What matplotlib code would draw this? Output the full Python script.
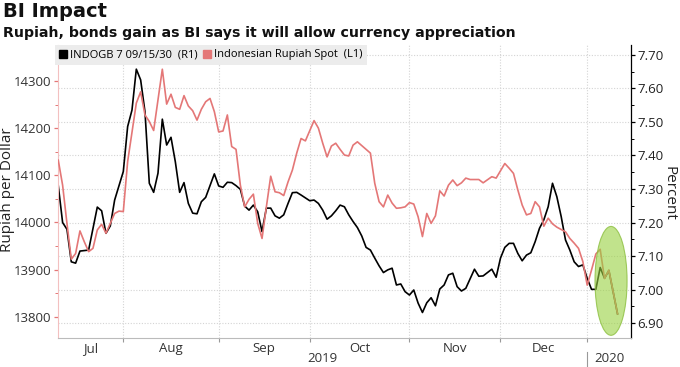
import matplotlib
matplotlib.use("Agg")
import numpy as np
import pandas as pd
import matplotlib.pyplot as plt
import matplotlib.transforms as mtransforms
from matplotlib.patches import Ellipse
from matplotlib.lines import Line2D

plt.rcParams['font.family'] = ['Open Sans', 'DejaVu Sans']

# trading calendar for the x axis (weekdays less market holidays)
holidays = ['2019-12-24', '2019-12-25', '2020-01-01']
days = pd.bdate_range('2019-07-11', '2020-01-13', freq='C', holidays=holidays)

# INDOGB 7 09/15/30 yield, percent (right axis)
bond_dates = [
    '2019-07-11', '2019-07-12', '2019-07-15', '2019-07-16', '2019-07-17', '2019-07-18',
    '2019-07-22', '2019-07-24', '2019-07-25', '2019-07-26', '2019-07-29', '2019-07-30',
    '2019-08-01', '2019-08-02', '2019-08-05', '2019-08-06', '2019-08-07', '2019-08-08',
    '2019-08-09', '2019-08-12', '2019-08-13', '2019-08-14', '2019-08-15', '2019-08-16',
    '2019-08-19', '2019-08-20', '2019-08-21', '2019-08-22', '2019-08-23', '2019-08-26',
    '2019-08-27', '2019-08-28', '2019-08-30',
    '2019-09-02', '2019-09-03', '2019-09-04', '2019-09-05', '2019-09-06', '2019-09-09',
    '2019-09-10', '2019-09-11', '2019-09-12', '2019-09-13', '2019-09-16', '2019-09-17',
    '2019-09-18', '2019-09-19', '2019-09-20', '2019-09-23', '2019-09-24', '2019-09-25',
    '2019-09-26', '2019-09-27',
    '2019-10-01', '2019-10-02', '2019-10-03', '2019-10-04', '2019-10-07', '2019-10-08',
    '2019-10-09', '2019-10-10', '2019-10-11', '2019-10-14', '2019-10-15', '2019-10-16',
    '2019-10-17', '2019-10-18', '2019-10-21', '2019-10-22', '2019-10-23', '2019-10-24',
    '2019-10-25', '2019-10-28', '2019-10-29', '2019-10-30', '2019-10-31',
    '2019-11-01', '2019-11-04', '2019-11-05', '2019-11-06', '2019-11-07', '2019-11-08',
    '2019-11-11', '2019-11-12', '2019-11-13', '2019-11-14', '2019-11-15', '2019-11-18',
    '2019-11-19', '2019-11-20', '2019-11-22', '2019-11-25', '2019-11-26', '2019-11-28',
    '2019-11-29',
    '2019-12-02', '2019-12-03', '2019-12-04', '2019-12-05', '2019-12-06', '2019-12-09',
    '2019-12-10', '2019-12-11', '2019-12-12', '2019-12-13', '2019-12-16', '2019-12-17',
    '2019-12-18', '2019-12-19', '2019-12-20', '2019-12-23', '2019-12-26', '2019-12-27',
    '2019-12-30', '2019-12-31',
    '2020-01-02', '2020-01-03', '2020-01-06', '2020-01-07', '2020-01-08', '2020-01-09',
    '2020-01-13',
]
bond_yield = [
    7.310, 7.200, 7.180, 7.083, 7.079, 7.115,
    7.118, 7.246, 7.235, 7.168, 7.190, 7.267,
    7.352, 7.486, 7.535, 7.657, 7.625, 7.530,
    7.317, 7.290, 7.347, 7.508, 7.431, 7.454,
    7.381, 7.290, 7.319, 7.257, 7.228, 7.226,
    7.262, 7.275, 7.345,
    7.309, 7.305, 7.320, 7.319, 7.310, 7.299,
    7.249, 7.237, 7.252, 7.232, 7.173, 7.243,
    7.243, 7.220, 7.213, 7.223, 7.257, 7.289,
    7.290, 7.282,
    7.265, 7.267, 7.257, 7.237, 7.210, 7.220,
    7.235, 7.252, 7.247, 7.223, 7.203, 7.185,
    7.160, 7.126, 7.118, 7.094, 7.071, 7.051,
    7.059, 7.064, 7.014, 7.017, 6.994,
    6.984, 6.999, 6.960, 6.932, 6.961, 6.976,
    6.952, 7.002, 7.014, 7.044, 7.049, 7.009,
    6.996, 7.004, 7.061, 7.040, 7.041, 7.061,
    7.037,
    7.094, 7.126, 7.138, 7.138, 7.108, 7.086,
    7.103, 7.110, 7.143, 7.183, 7.208, 7.247,
    7.317, 7.277, 7.218, 7.148, 7.118, 7.083,
    7.069, 7.074,
    7.034, 7.001, 7.001, 7.066, 7.034, 7.057,
    6.928,
]

# Indonesian Rupiah spot, rupiah per dollar (left axis)
idr_dates = [
    '2019-07-11', '2019-07-12', '2019-07-15', '2019-07-16', '2019-07-17', '2019-07-18',
    '2019-07-19', '2019-07-22', '2019-07-23', '2019-07-24', '2019-07-25', '2019-07-26',
    '2019-07-29', '2019-07-30', '2019-07-31',
    '2019-08-01', '2019-08-02', '2019-08-06', '2019-08-07', '2019-08-08', '2019-08-09',
    '2019-08-12', '2019-08-14', '2019-08-15', '2019-08-16', '2019-08-19', '2019-08-20',
    '2019-08-21', '2019-08-22', '2019-08-23', '2019-08-26', '2019-08-27', '2019-08-28',
    '2019-08-29', '2019-08-30',
    '2019-09-02', '2019-09-03', '2019-09-04', '2019-09-05', '2019-09-06', '2019-09-09',
    '2019-09-10', '2019-09-11', '2019-09-12', '2019-09-13', '2019-09-16', '2019-09-17',
    '2019-09-18', '2019-09-19', '2019-09-20', '2019-09-23', '2019-09-24', '2019-09-25',
    '2019-09-26', '2019-09-27', '2019-09-30',
    '2019-10-02', '2019-10-03', '2019-10-04', '2019-10-07', '2019-10-08', '2019-10-09',
    '2019-10-10', '2019-10-11', '2019-10-14', '2019-10-15', '2019-10-16', '2019-10-18',
    '2019-10-21', '2019-10-22', '2019-10-23', '2019-10-24', '2019-10-25', '2019-10-28',
    '2019-10-29', '2019-10-30', '2019-10-31',
    '2019-11-01', '2019-11-04', '2019-11-05', '2019-11-06', '2019-11-07', '2019-11-08',
    '2019-11-11', '2019-11-12', '2019-11-13', '2019-11-14', '2019-11-15', '2019-11-18',
    '2019-11-19', '2019-11-20', '2019-11-21', '2019-11-25', '2019-11-26', '2019-11-28',
    '2019-11-29',
    '2019-12-03', '2019-12-04', '2019-12-05', '2019-12-06', '2019-12-09', '2019-12-10',
    '2019-12-11', '2019-12-12', '2019-12-13', '2019-12-16', '2019-12-17', '2019-12-18',
    '2019-12-19', '2019-12-20', '2019-12-23', '2019-12-26', '2019-12-27', '2019-12-30',
    '2019-12-31',
    '2020-01-02', '2020-01-03', '2020-01-06', '2020-01-07', '2020-01-08', '2020-01-09',
    '2020-01-13',
]
idr_spot = [
    14132, 14079, 13998, 13922, 13934, 13982,
    13959, 13938, 13945, 13984, 13996, 13977,
    13998, 14019, 14024,
    14023, 14129, 14253, 14277, 14228, 14214,
    14195, 14325, 14251, 14272, 14244, 14240,
    14269, 14247, 14237, 14217, 14240, 14256,
    14263, 14235,
    14192, 14194, 14228, 14161, 14155, 14079,
    14033, 14049, 14060, 13998, 13966, 14033,
    14098, 14065, 14063, 14057, 14086, 14111,
    14147, 14178, 14173,
    14216, 14200, 14168, 14139, 14162, 14168,
    14155, 14143, 14141, 14164, 14171, 14155,
    14147, 14083, 14044, 14033, 14058, 14041,
    14030, 14031, 14033,
    14042, 14039, 14012, 13970, 14019, 13998,
    14014, 14067, 14056, 14079, 14090, 14078,
    14084, 14094, 14091, 14091, 14084, 14097,
    14094,
    14125, 14115, 14104, 14069, 14037, 14016,
    14019, 14044, 14033, 13992, 14009, 13997,
    13990, 13985, 13980, 13966, 13956, 13945,
    13917,
    13867, 13899, 13933, 13943, 13881, 13899,
    13806,
]

left_ticks = [13800, 13900, 14000, 14100, 14200, 14300]
right_ticks = [6.90, 7.00, 7.10, 7.20, 7.30, 7.40, 7.50, 7.60, 7.70]

bond_x = days.get_indexer(pd.to_datetime(bond_dates))
idr_x = days.get_indexer(pd.to_datetime(idr_dates))

red = '#e47777'

fig = plt.figure(figsize=(6.8, 3.67), dpi=100)
ax = fig.add_axes([0.0857, 0.079, 0.8422, 0.7984])
ax2 = ax.twinx()
ax.set_zorder(2)
ax2.set_zorder(1)
ax.patch.set_visible(False)

# month boundaries
month_starts = [i for i in range(1, len(days)) if days[i].month != days[i - 1].month]
edges = [0] + month_starts
mids = [(edges[i] + edges[i + 1]) / 2 for i in range(len(edges) - 1)]
mlabels = [days[edges[i]].strftime('%b') for i in range(len(edges) - 1)]

ax.set_xlim(0, 132.1)
ax.set_ylim(13754.8, 14376.4)
ax2.set_ylim(6.856, 7.729)

# grid
for yv in right_ticks:
    ax2.axhline(yv, color='#d4d4d4', lw=0.8, ls=(0, (1, 1.5)), zorder=0)
for xv in month_starts:
    ax2.axvline(xv, color='#d4d4d4', lw=0.8, ls=(0, (1, 1.5)), zorder=0)

ax2.plot(bond_x, bond_yield, color='black', lw=1.2, zorder=3)
ax.plot(idr_x, idr_spot, color=red, lw=1.2, zorder=3)

ell = Ellipse((127.5, 13876), width=7.4, height=231, facecolor=(0.60, 0.82, 0.25, 0.6),
              edgecolor=(0.55, 0.75, 0.25, 0.8), lw=0.8, zorder=5)
ax.add_patch(ell)

# spines
for s in ['top', 'right']:
    ax.spines[s].set_visible(False)
for s in ['top', 'left', 'bottom']:
    ax2.spines[s].set_visible(False)
ax.spines['left'].set_color('#f3c0c0')
ax.spines['bottom'].set_color('#bbbbbb')
ax2.spines['right'].set_color('black')
ax2.spines['right'].set_linewidth(0.9)

# left axis
ax.set_yticks(left_ticks)
ax.set_yticks(np.arange(13800, 14376, 50), minor=True)
ax.tick_params(axis='y', which='major', colors=red, labelcolor='#333333', length=3,
               width=0.9, labelsize=9.5, pad=2)
ax.tick_params(axis='y', which='minor', colors=red, length=2, width=0.7)

# right axis
ax2.set_yticks(right_ticks)
ax2.set_yticks(np.arange(6.90, 7.72, 0.05), minor=True)
ax2.set_yticklabels(['%.2f' % v for v in right_ticks])
ax2.tick_params(axis='y', which='major', colors='black', labelcolor='#222222', length=3,
                width=0.9, labelsize=9.5, pad=1.5)
ax2.tick_params(axis='y', which='minor', colors='black', length=2, width=0.7)

# x axis
ax.set_xticks(month_starts)
ax.set_xticklabels([])
ax.set_xticks(mids, minor=True)
ax.set_xticklabels(mlabels, minor=True)
ax.tick_params(axis='x', which='major', colors='#999999', length=3, width=0.8)
ax.tick_params(axis='x', which='minor', length=0, labelsize=9.5, labelcolor='#333333', pad=3)

trans = mtransforms.blended_transform_factory(ax.transData, ax.transAxes)
ax.text(month_starts[-1] / 2, -0.07, '2019', transform=trans, ha='center', va='center',
        fontsize=9.5, color='#333333')
ax.text((month_starts[-1] + 132.1) / 2, -0.07, '2020', transform=trans, ha='center',
        va='center', fontsize=9.5, color='#333333')
ax.plot([month_starts[-1], month_starts[-1]], [-0.048, -0.1], transform=trans,
        color='#999999', lw=0.8, clip_on=False)

# axis titles
fig.text(8 / 680, 1 - 190 / 367, 'Rupiah per Dollar', rotation=90, ha='center',
         va='center', fontsize=11, color='#222222')
fig.text(669 / 680, 1 - 193 / 367, 'Percent', rotation=270, ha='center', va='center',
         fontsize=11, color='#222222')

# legend
handles = [Line2D([], [], ls='none', marker='s', markersize=5.5, color='black'),
           Line2D([], [], ls='none', marker='s', markersize=5.5, color=red)]
leg = ax.legend(handles, ['INDOGB 7 09/15/30  (R1)', 'Indonesian Rupiah Spot  (L1)'],
                loc='upper left', bbox_to_anchor=(-0.005, 1.0), ncol=2, frameon=True,
                fancybox=False, fontsize=8, handlelength=0.6, handletextpad=0.3,
                columnspacing=0.6, borderpad=0.4, borderaxespad=0.0)
leg.get_frame().set_facecolor('#ececec')
leg.get_frame().set_edgecolor('none')
leg.get_frame().set_alpha(1)
leg.set_zorder(10)

# titles
fig.text(0.004, 0.995, 'BI Impact', fontsize=14, weight='bold', va='top',
         family='DejaVu Sans', color='#111111')
fig.text(0.004, 0.93, 'Rupiah, bonds gain as BI says it will allow currency appreciation',
         fontsize=10.2, weight='bold', va='top', family='DejaVu Sans', color='#111111')

fig.savefig('out.png', dpi=100)
